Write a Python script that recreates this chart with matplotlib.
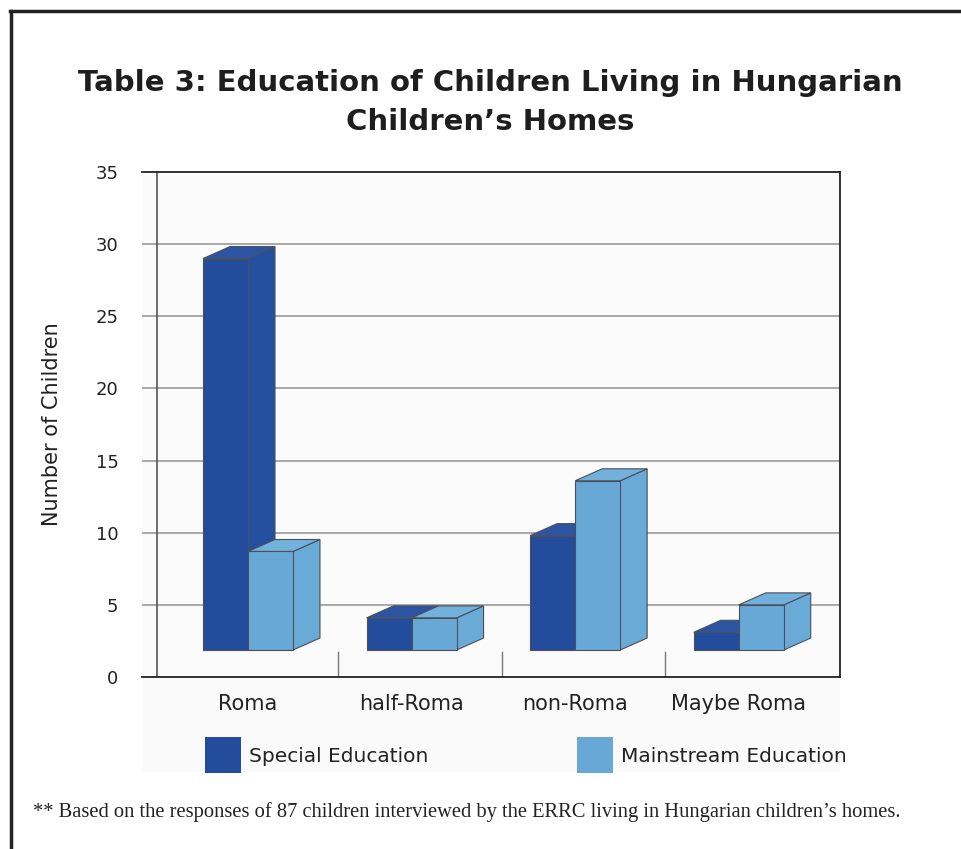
import matplotlib.pyplot as plt
from matplotlib.patches import Polygon, Rectangle
from matplotlib.lines import Line2D

categories = ['Roma', 'half-Roma', 'non-Roma', 'Maybe Roma']
special = [29.0, 4.1, 9.8, 3.1]
mainstream = [8.7, 4.1, 13.6, 5.0]
series_names = ['Special Education', 'Mainstream Education']
yticks = [0, 5, 10, 15, 20, 25, 30, 35]

# front / side / top colours for each series
colors = [('#244c9c', '#25509f', '#2b55a3'),
          ('#68a8d6', '#6aaad7', '#72b1dc')]

W = 0.275      # bar width (category units)
DX = 0.165     # depth shift, x
DY = 0.83      # depth shift, y
BASE = 1.87    # floor level of the 3d bars

W_PX, H_PX = 961, 849


def fx(px):
    return px / W_PX


def fy(py):
    return 1 - py / H_PX


def bar3d(ax, x0, val, fc, sc, tc):
    ec = '#4a4f5a'
    front = Rectangle((x0, BASE), W, val - BASE, fc=fc, ec=ec, lw=0.8, zorder=3)
    top = Polygon([(x0, val), (x0 + DX, val + DY), (x0 + W + DX, val + DY), (x0 + W, val)],
                  closed=True, fc=tc, ec=ec, lw=0.8, zorder=3)
    side = Polygon([(x0 + W, BASE), (x0 + W + DX, BASE + DY), (x0 + W + DX, val + DY), (x0 + W, val)],
                   closed=True, fc=sc, ec=ec, lw=0.8, zorder=3)
    for p in (side, top, front):
        ax.add_patch(p)


fig = plt.figure(figsize=(W_PX / 100, H_PX / 100), dpi=100)
fig.patch.set_facecolor('white')

# light chart background
fig.add_artist(Rectangle((fx(142), fy(772)), fx(840) - fx(142), fy(172) - fy(772),
                         transform=fig.transFigure, fc='#fafafa', ec='none', zorder=0))

# page frame (left and top)
fig.add_artist(Line2D([fx(11), fx(11)], [fy(849), fy(11)], transform=fig.transFigure,
                      color='#222222', lw=2.5))
fig.add_artist(Line2D([fx(10), fx(961)], [fy(11), fy(11)], transform=fig.transFigure,
                      color='#222222', lw=2.5))

fig.text(fx(490), fy(83), 'Table 3: Education of Children Living in Hungarian',
         ha='center', va='center', fontsize=21, fontweight='bold', color='#1e1e1e')
fig.text(fx(490), fy(122), 'Children\u2019s Homes',
         ha='center', va='center', fontsize=21, fontweight='bold', color='#1e1e1e')

ax = fig.add_axes([fx(142), fy(677), (840 - 142) / W_PX, (677 - 172) / H_PX])
ax.set_facecolor('#fbfbfb')
ax.set_xlim(-0.648, 3.619)
ax.set_ylim(0, 35)

for y in yticks[1:-1]:
    ax.axhline(y, color='#a8a8a8', lw=1.4, zorder=1)

# back wall edge
ax.axvline(-0.648 + 15 / 163.6, color='#555555', lw=1.2, zorder=1)

# category separators
for i in range(len(categories) - 1):
    ax.plot([i + 0.55, i + 0.55], [0, 1.7], color='#777777', lw=1.0, zorder=1)

for i in range(len(categories)):
    bar3d(ax, i - W, special[i], *colors[0])
    bar3d(ax, i, mainstream[i], *colors[1])

for s in ['top', 'bottom', 'right']:
    ax.spines[s].set_color('#222222')
    ax.spines[s].set_linewidth(1.3)
ax.spines['left'].set_visible(False)

ax.set_yticks(yticks)
ax.set_yticklabels([str(v) for v in yticks], fontsize=13, color='#222222')
ax.set_xticks(range(len(categories)))
ax.set_xticklabels(categories, fontsize=15, color='#222222')
ax.tick_params(axis='y', length=0, pad=17)
ax.tick_params(axis='x', length=0, pad=12)
ax.set_ylabel('Number of Children', fontsize=15, color='#222222')
ax.yaxis.set_label_coords((62 - 142) / 698, 0.5)

# legend
legend_x = [205, 577]
for k, name in enumerate(series_names):
    fig.add_artist(Rectangle((fx(legend_x[k]), fy(773)), fx(36), fy(737) - fy(773),
                             transform=fig.transFigure, fc=colors[k][0], ec='none'))
    fig.text(fx(legend_x[k] + 44), fy(757), name, ha='left', va='center',
             fontsize=14.5, color='#222222')

fig.text(fx(33), fy(812),
         '** Based on the responses of 87 children interviewed by the ERRC living in Hungarian children\u2019s homes.',
         ha='left', va='center', fontsize=14.8, family='Liberation Serif', color='#222222')

fig.savefig('out.png', dpi=100)
